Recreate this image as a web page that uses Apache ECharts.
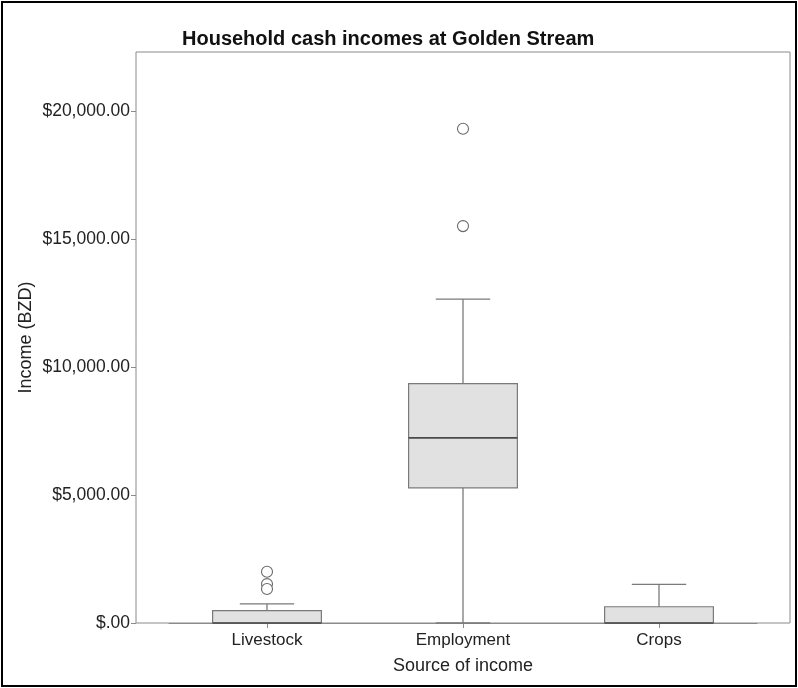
<!DOCTYPE html>
<html>
<head>
<meta charset="utf-8">
<style>
  html, body { margin: 0; padding: 0; background: #ffffff; }
  #chart { width: 798px; height: 688px; }
</style>
<script src="https://cdn.jsdelivr.net/npm/echarts@6/dist/echarts.min.js"></script>
</head>
<body>
<div id="chart"></div>
<script>
// Income sources and their five-number summaries (BZD)
const categories = ['Livestock', 'Employment', 'Crops'];
const whiskerLow = [0, 0, 0];
const quartile1 = [0, 5280, 0];
const medians = [0, 7230, 0];
const quartile3 = [480, 9350, 635];
const whiskerHigh = [750, 12650, 1510];

// Outlying households
const outlierCategory = ['Livestock', 'Livestock', 'Livestock', 'Employment', 'Employment'];
const outlierValues = [2000, 1520, 1330, 15500, 19300];

// Value-axis ticks
const yTicks = [0, 5000, 10000, 15000, 20000];
const yTickLabels = ['$.00', '$5,000.00', '$10,000.00', '$15,000.00', '$20,000.00'];
const yMax = 22300;

const FONT = "'Liberation Sans', Arial, sans-serif";
const TEXT = '#222222';
const LINE = '#8a8a8a';

const boxData = categories.map((c, i) => [i, whiskerLow[i], quartile1[i], medians[i], quartile3[i], whiskerHigh[i]]);
const outlierData = outlierCategory.map((c, i) => [categories.indexOf(c), outlierValues[i]]);

function renderBox(params, api) {
  const x = api.value(0);
  const low = api.coord([x, api.value(1)]);
  const q1 = api.coord([x, api.value(2)]);
  const med = api.coord([x, api.value(3)]);
  const q3 = api.coord([x, api.value(4)]);
  const high = api.coord([x, api.value(5)]);
  const band = api.size([1, 0])[0];
  const halfBox = band * 0.555 / 2;
  const halfCap = halfBox / 2;
  const cx = low[0];
  const whisker = { stroke: '#7a7a7a', lineWidth: 1.3 };
  const children = [];
  if (high[1] < q3[1]) {
    children.push({ type: 'line', shape: { x1: cx, y1: q3[1], x2: cx, y2: high[1] }, style: whisker });
    children.push({ type: 'line', shape: { x1: cx - halfCap, y1: high[1], x2: cx + halfCap, y2: high[1] }, style: whisker });
  }
  if (low[1] > q1[1]) {
    children.push({ type: 'line', shape: { x1: cx, y1: q1[1], x2: cx, y2: low[1] }, style: whisker });
    children.push({ type: 'line', shape: { x1: cx - halfCap, y1: low[1], x2: cx + halfCap, y2: low[1] }, style: whisker });
  }
  children.push({
    type: 'rect',
    shape: { x: cx - halfBox, y: q3[1], width: halfBox * 2, height: q1[1] - q3[1] },
    style: { fill: '#e1e1e1', stroke: '#7a7a7a', lineWidth: 1.2 }
  });
  children.push({
    type: 'line',
    shape: { x1: cx - halfBox, y1: med[1], x2: cx + halfBox, y2: med[1] },
    style: { stroke: '#4a4a4a', lineWidth: 1.6 }
  });
  return { type: 'group', children };
}

const chart = echarts.init(document.getElementById('chart'), null, { renderer: 'canvas' });

chart.setOption({
  backgroundColor: '#ffffff',
  animation: false,
  title: {
    text: 'Household cash incomes at Golden Stream',
    left: 177,
    top: 24,
    textStyle: { fontFamily: FONT, fontSize: 20, fontWeight: 'bold', color: '#111111' }
  },
  graphic: [{
    type: 'rect',
    shape: { x: 2, y: 2, width: 794, height: 684 },
    style: { fill: 'none', stroke: '#000000', lineWidth: 2 },
    silent: true,
    z: 100
  }],
  grid: [
    { left: 169, right: 41, top: 52, bottom: 65 },
    { left: 136, right: 8, top: 52, bottom: 65, show: true, borderColor: LINE, borderWidth: 1, backgroundColor: 'transparent' }
  ],
  xAxis: [
    {
      type: 'category',
      gridIndex: 0,
      data: categories,
      boundaryGap: true,
      name: 'Source of income',
      nameLocation: 'middle',
      nameGap: 34,
      nameTextStyle: { fontFamily: FONT, fontSize: 18, color: TEXT },
      axisLine: { show: true, lineStyle: { color: LINE, width: 1 } },
      axisTick: { show: true, alignWithLabel: true, length: 5, lineStyle: { color: LINE } },
      axisLabel: { fontFamily: FONT, fontSize: 17, color: TEXT, margin: 9 },
      splitLine: { show: false }
    },
    { type: 'value', gridIndex: 1, show: false, min: 0, max: 1 }
  ],
  yAxis: [
    {
      type: 'value',
      gridIndex: 0,
      min: 0,
      max: yMax,
      interval: 5000,
      offset: 33,
      name: 'Income (BZD)',
      nameLocation: 'middle',
      nameGap: 101,
      nameMoveOverlap: false,
      nameTextStyle: { fontFamily: FONT, fontSize: 18, color: TEXT },
      axisLine: { show: false },
      axisTick: { show: true, length: 5, lineStyle: { color: LINE } },
      axisLabel: {
        fontFamily: FONT, fontSize: 17.5, color: TEXT, margin: 6,
        showMaxLabel: false,
        formatter: v => { const k = yTicks.indexOf(v); return k >= 0 ? yTickLabels[k] : ''; }
      },
      splitLine: { show: false }
    },
    { type: 'value', gridIndex: 1, show: false, min: 0, max: 1 }
  ],
  series: [
    {
      type: 'custom',
      name: 'Income',
      xAxisIndex: 0,
      yAxisIndex: 0,
      renderItem: renderBox,
      encode: { x: 0, y: [1, 2, 3, 4, 5] },
      data: boxData,
      z: 2
    },
    {
      type: 'scatter',
      name: 'Outliers',
      xAxisIndex: 0,
      yAxisIndex: 0,
      symbol: 'circle',
      symbolSize: 11,
      itemStyle: { color: '#ffffff', borderColor: '#6a6a6a', borderWidth: 1.1, opacity: 1 },
      data: outlierData,
      z: 3
    }
  ]
});
</script>
</body>
</html>
